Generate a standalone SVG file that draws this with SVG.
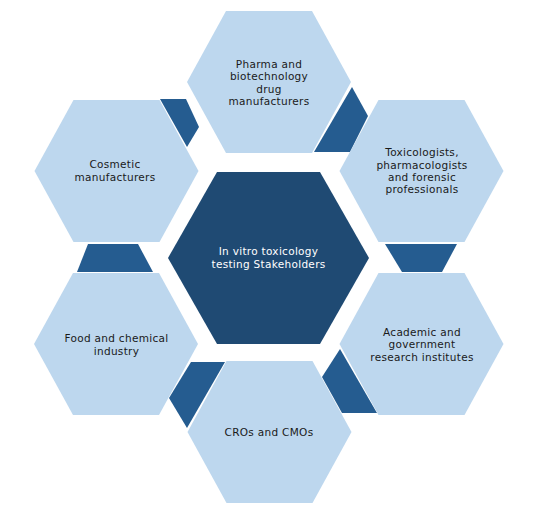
<svg xmlns="http://www.w3.org/2000/svg" xmlns:xlink="http://www.w3.org/1999/xlink" width="544" height="519" viewBox="0 0 544 519">
<style>
.hex{fill:#bdd7ee}
.core{fill:#1f4a73}
.conn{fill:#255c90}
text{font-family:"DejaVu Sans","Verdana",sans-serif;font-size:10.5px;fill:#1a1a1a;text-anchor:middle;letter-spacing:0.3px}
.core-t{fill:#ffffff}
</style>
<defs>
<polygon id="h" points="-82,0 -43,-71 43,-71 82,0 43,71 -43,71"/>
</defs>
<rect width="544" height="519" fill="#ffffff"/>
<g id="connectors">
<polygon class="conn" points="352,87 368,116 350,152 314,152"/>
<polygon class="conn" points="385,244 457,244 442,272 402,272"/>
<polygon class="conn" points="340,349 322,377 342,413 377,413"/>
<polygon class="conn" points="191,362 225,362 187,428 169,398"/>
<polygon class="conn" points="88,244 138,244 153,272 77,272"/>
<polygon class="conn" points="160,99 186,99 199,127 187,147"/>
</g>
<g id="center">
<polygon class="core" points="168,258 217,172 320,172 369,258 320,344 217,344"/>
<text class="core-t" x="268.5" y="254.5">In vitro toxicology</text>
<text class="core-t" x="268.5" y="268">testing Stakeholders</text>
</g>
<g id="pharma">
<use class="hex" xlink:href="#h" x="269" y="82"/>
<text x="269" y="67.5">Pharma and</text>
<text x="269" y="80">biotechnology</text>
<text x="269" y="92.5">drug</text>
<text x="269" y="105">manufacturers</text>
</g>
<g id="toxicologists">
<use class="hex" xlink:href="#h" x="421.5" y="171"/>
<text x="422" y="155.5">Toxicologists,</text>
<text x="422" y="168.5">pharmacologists</text>
<text x="422" y="181">and forensic</text>
<text x="422" y="193">professionals</text>
</g>
<g id="academic">
<use class="hex" xlink:href="#h" x="421.5" y="344"/>
<text x="422" y="335.5">Academic and</text>
<text x="422" y="348">government</text>
<text x="422" y="360.5">research institutes</text>
</g>
<g id="cros">
<use class="hex" xlink:href="#h" x="269.5" y="432"/>
<text x="269" y="435.5">CROs and CMOs</text>
</g>
<g id="food">
<use class="hex" xlink:href="#h" x="116" y="344"/>
<text x="116.5" y="341.5">Food and chemical</text>
<text x="116.5" y="354.5">industry</text>
</g>
<g id="cosmetic">
<use class="hex" xlink:href="#h" x="116.5" y="171"/>
<text x="115" y="168">Cosmetic</text>
<text x="115" y="181">manufacturers</text>
</g>
</svg>
